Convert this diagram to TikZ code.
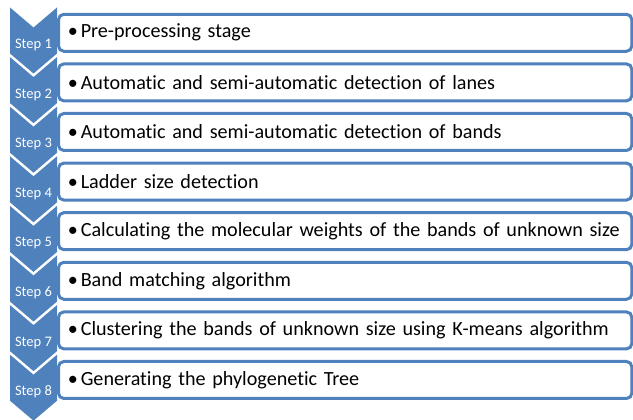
\documentclass[tikz,border=0pt]{standalone}
\usepackage{fontspec}
\setmainfont{Carlito}[Ligatures=NoCommon]
\definecolor{stepblue}{RGB}{79,129,189}

\begin{document}
\begin{tikzpicture}[x=0.75pt, y=-0.75pt,
  chev/.style={fill=stepblue},
  steplabel/.style={text=white, inner sep=0pt, font=\fontsize{10.9}{13}\selectfont},
  task/.style={draw=stepblue, line width=2.25pt, rounded corners=4pt, fill=white, anchor=west,
    minimum height=27.75pt, text width=416pt, inner xsep=7pt, align=left,
    font=\fontsize{15.1}{17}\selectfont}]
\useasboundingbox (0,0) rectangle (633,420);
\node[task] (t1) at (57,32.8) {\textbullet\hspace{2.2pt}Pre-processing stage};
\node[task] (t2) at (57,82.4) {\textbullet\hspace{2.2pt}Automatic and semi-automatic detection of lanes};
\node[task] (t3) at (57,132.0) {\textbullet\hspace{2.2pt}Automatic and semi-automatic detection of bands};
\node[task] (t4) at (57,181.6) {\textbullet\hspace{2.2pt}Ladder size detection};
\node[task] (t5) at (57,231.2) {\textbullet\hspace{2.2pt}Calculating the molecular weights of the bands of unknown size};
\node[task] (t6) at (57,280.8) {\textbullet\hspace{2.2pt}Band matching algorithm};
\node[task] (t7) at (57,330.4) {\textbullet\hspace{2.2pt}Clustering the bands of unknown size using K-means algorithm};
\node[task] (t8) at (57,380.0) {\textbullet\hspace{2.2pt}Generating the phylogenetic Tree};
\path[chev] (10,7.5) -- ++(23.5,20) -- ++(23.5,-20) -- ++(0,46) -- ++(-23.5,20) -- ++(-23.5,-20) -- cycle;
\path[chev] (10,57.1) -- ++(23.5,20) -- ++(23.5,-20) -- ++(0,46) -- ++(-23.5,20) -- ++(-23.5,-20) -- cycle;
\path[chev] (10,106.7) -- ++(23.5,20) -- ++(23.5,-20) -- ++(0,46) -- ++(-23.5,20) -- ++(-23.5,-20) -- cycle;
\path[chev] (10,156.3) -- ++(23.5,20) -- ++(23.5,-20) -- ++(0,46) -- ++(-23.5,20) -- ++(-23.5,-20) -- cycle;
\path[chev] (10,205.9) -- ++(23.5,20) -- ++(23.5,-20) -- ++(0,46) -- ++(-23.5,20) -- ++(-23.5,-20) -- cycle;
\path[chev] (10,255.5) -- ++(23.5,20) -- ++(23.5,-20) -- ++(0,46) -- ++(-23.5,20) -- ++(-23.5,-20) -- cycle;
\path[chev] (10,305.1) -- ++(23.5,20) -- ++(23.5,-20) -- ++(0,46) -- ++(-23.5,20) -- ++(-23.5,-20) -- cycle;
\path[chev] (10,354.7) -- ++(23.5,20) -- ++(23.5,-20) -- ++(0,46) -- ++(-23.5,20) -- ++(-23.5,-20) -- cycle;
\node[steplabel] (s1) at (33.5,45.0) {Step 1};
\node[steplabel] (s2) at (33.5,94.6) {Step 2};
\node[steplabel] (s3) at (33.5,144.2) {Step 3};
\node[steplabel] (s4) at (33.5,193.8) {Step 4};
\node[steplabel] (s5) at (33.5,243.4) {Step 5};
\node[steplabel] (s6) at (33.5,293.0) {Step 6};
\node[steplabel] (s7) at (33.5,342.6) {Step 7};
\node[steplabel] (s8) at (33.5,392.2) {Step 8};
\end{tikzpicture}
\end{document}
